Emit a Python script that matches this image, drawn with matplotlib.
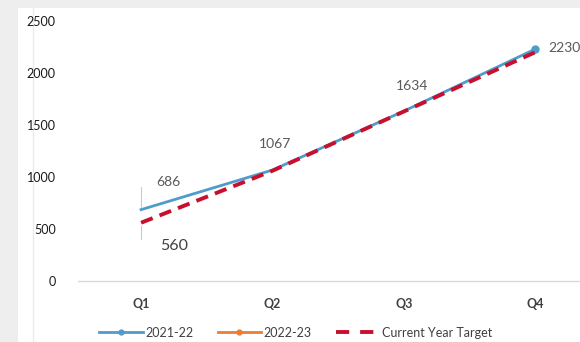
import matplotlib
matplotlib.use("Agg")
import matplotlib.pyplot as plt
from matplotlib.patches import Rectangle
from matplotlib.lines import Line2D

plt.rcParams['font.family'] = ['Lato', 'DejaVu Sans']

quarters = ["Q1", "Q2", "Q3", "Q4"]
series_2021 = [686, 1067, 1634, 2230]
series_2022 = []
target = [560, 1060, 1630, 2200]
yticks = [0, 500, 1000, 1500, 2000, 2500]

W, H = 580, 342
fig = plt.figure(figsize=(W / 100, H / 100), dpi=100, facecolor="#eeeeee")
fig.patches.append(Rectangle((18 / W, 0), 1, 1 - 8 / H, transform=fig.transFigure,
                             facecolor="white", edgecolor="none", zorder=-2))
fig.lines.append(Line2D([33 / W, 33 / W], [0, 1 - 8 / H], transform=fig.transFigure,
                        color="#ececec", lw=1, zorder=-1))

ax = fig.add_axes([78 / W, 1 - 281 / H, 1 - 78 / W, (281 - 21) / H])
ax.set_facecolor("none")
x = list(range(len(quarters)))

ax.plot(x, target, color="#c8102e", lw=2.8, dashes=(3.2, 1.9), zorder=3,
        label="Current Year Target", solid_capstyle="butt", dash_capstyle="butt")
ax.plot(x, series_2021, color="#4e9ccc", lw=2.0, marker="o", markersize=5,
        markevery=[3], zorder=2, label="2021-22")
ax.plot(x[:len(series_2022)], series_2022, color="#ed7d31", lw=2.0, marker="o",
        markersize=4, label="2022-23")

ax.set_xlim(-0.48, 3.34)
ax.set_ylim(0, 2500)
ax.set_yticks(yticks)
ax.set_yticklabels([str(v) for v in yticks], fontsize=9, color="#1a1a1a")
ax.set_xticks(x)
ax.set_xticklabels(quarters, fontsize=9, fontweight="bold", color="#404040")
ax.tick_params(axis="y", length=0, pad=16)
ax.tick_params(axis="x", length=0, pad=12)
for s in ["top", "right", "left"]:
    ax.spines[s].set_visible(False)
ax.spines["bottom"].set_color("#d9d9d9")
ax.spines["bottom"].set_linewidth(1)

lab = dict(fontsize=10, color="#595959", annotation_clip=False)
ax.annotate(str(series_2021[0]), (x[0], series_2021[0]), xytext=(20, 20),
            textcoords="offset points", ha="center", va="center",
            arrowprops=dict(arrowstyle="-", color="#c9c9c9", lw=0.8,
                            connectionstyle="angle,angleA=0,angleB=90,rad=0",
                            shrinkA=10, shrinkB=2), **lab)
ax.annotate(str(series_2021[1]), (x[1], series_2021[1]), xytext=(2, 19),
            textcoords="offset points", ha="center", va="center", **lab)
ax.annotate(str(series_2021[2]), (x[2], series_2021[2]), xytext=(6, 18),
            textcoords="offset points", ha="center", va="center", **lab)
ax.annotate(str(series_2021[3]), (x[3], series_2021[3]), xytext=(9, 1),
            textcoords="offset points", ha="left", va="center", **lab)
ax.annotate(str(target[0]), (x[0], target[0]), xytext=(24, -17),
            textcoords="offset points", ha="center", va="center",
            fontsize=11.5, color="#404040", annotation_clip=False,
            arrowprops=dict(arrowstyle="-", color="#c9c9c9", lw=0.8,
                            connectionstyle="angle,angleA=0,angleB=90,rad=0",
                            shrinkA=13, shrinkB=2))

# legend keys: small markers on the solid series, two long dashes for the target
key_2021 = Line2D([], [], color="#4e9ccc", lw=2.0, marker="o", markersize=3.5)
key_2022 = Line2D([], [], color="#ed7d31", lw=2.0, marker="o", markersize=3.5)
key_target = Line2D([], [], color="#c8102e", lw=2.8, dashes=(3.4, 2.8),
                    dash_capstyle="butt")
fig.legend([key_2021, key_2022, key_target],
           ["2021-22", "2022-23", "Current Year Target"],
           loc="center", bbox_to_anchor=(0.51, 0.027), ncol=3, frameon=False,
           fontsize=9, labelcolor="#404040", handlelength=3.5, columnspacing=1.9,
           handletextpad=0.2)

fig.savefig("out.png", dpi=100, facecolor=fig.get_facecolor())
